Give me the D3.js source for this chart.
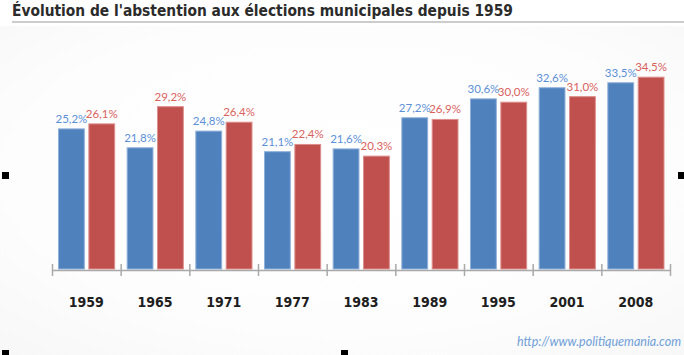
<!DOCTYPE html>
<html>
<head>
<meta charset="utf-8">
<script src="https://cdn.jsdelivr.net/npm/d3@7"></script>
<style>
  html, body { margin: 0; padding: 0; background: #ffffff; }
  svg { display: block; }
</style>
</head>
<body>
<svg id="chart" width="684" height="355"></svg>
<script>
// ---- data ----
const titleText = "Évolution de l'abstention aux élections municipales depuis 1959";
const years = ["1959", "1965", "1971", "1977", "1983", "1989", "1995", "2001", "2008"];
const firstRound = [25.2, 21.8, 24.8, 21.1, 21.6, 27.2, 30.6, 32.6, 33.5];
const secondRound = [26.1, 29.2, 26.4, 22.4, 20.3, 26.9, 30.0, 31.0, 34.5];
const seriesKeys = ["first", "second"];
const sourceText = "http://www.politiquemania.com";

// ---- layout ----
const W = 684, H = 355;
const axisY = 270, baseY = 269;
const svg = d3.select("#chart");

// background
const defs = svg.append("defs");
const grad = defs.append("radialGradient").attr("id", "bg").attr("cx", "50%").attr("cy", "45%").attr("r", "80%");
grad.append("stop").attr("offset", "0%").attr("stop-color", "#ffffff");
grad.append("stop").attr("offset", "60%").attr("stop-color", "#fdfdfd");
grad.append("stop").attr("offset", "100%").attr("stop-color", "#f6f6f6");
svg.append("rect").attr("x", 0).attr("y", 26).attr("width", W).attr("height", H - 26).attr("fill", "url(#bg)");

// title
const title = svg.append("text")
  .attr("x", 12).attr("y", 16)
  .attr("font-family", "'DejaVu Sans Condensed', 'DejaVu Sans', sans-serif")
  .attr("font-weight", "bold")
  .attr("font-size", 15)
  .attr("fill", "#2b2b2b")
  .text(titleText);
(function fit(){
  let fs = 15;
  for (let i = 0; i < 6; i++) {
    const w = title.node().getComputedTextLength();
    fs = fs * 501 / w;
    title.attr("font-size", fs);
  }
})();
svg.append("line").attr("x1", 12).attr("x2", W).attr("y1", 22).attr("y2", 22)
  .attr("stroke", "#cccccc").attr("stroke-width", 2);

// scales
const x = d3.scaleBand().domain(years).range([52, 670]).padding(0);
const xs = d3.scaleBand().domain(seriesKeys).range([6.5, x.bandwidth() - 6]).paddingInner(0.15);
const y = d3.scaleLinear().domain([0, 40]).range([baseY, baseY - 222.4]);
const idx = d3.scaleLinear().domain([0, years.length]).range([52, 670]);

const colors = { first: "#4f81bd", second: "#c0504d" };
const strokes = { first: "#8fb0da", second: "#dd8e8c" };
const labelColors = { first: "#5b90d8", second: "#d9625e" };

const rows = years.map((yr, i) => ({ year: yr, first: firstRound[i], second: secondRound[i] }));

// bars
const groups = svg.selectAll("g.yr").data(rows).join("g")
  .attr("class", "yr")
  .attr("transform", d => `translate(${x(d.year)},0)`);

groups.selectAll("rect").data(d => seriesKeys.map(k => ({ key: k, value: d[k] }))).join("rect")
  .attr("x", d => xs(d.key))
  .attr("y", d => y(d.value))
  .attr("width", xs.bandwidth())
  .attr("height", d => baseY - y(d.value))
  .attr("fill", d => colors[d.key])
  .attr("stroke", d => strokes[d.key])
  .attr("stroke-width", 1);

groups.selectAll("text.val").data(d => seriesKeys.map(k => ({ key: k, value: d[k] }))).join("text")
  .attr("class", "val")
  .attr("x", d => xs(d.key) + xs.bandwidth() / 2)
  .attr("y", d => y(d.value) - 6)
  .attr("text-anchor", "middle")
  .attr("font-family", "Lato, 'Open Sans', sans-serif")
  .attr("font-size", 11.5)
  .attr("fill", d => labelColors[d.key])
  .text(d => d.value.toFixed(1).replace(".", ",") + "%");

// axis
const axis = d3.axisBottom(idx).tickValues(d3.range(years.length + 1)).tickSize(12).tickSizeOuter(0).tickFormat("");
const ax = svg.append("g").attr("transform", `translate(0,${axisY})`).call(axis);
ax.select(".domain").attr("stroke", "#a9a9a9").attr("stroke-width", 1.5);
ax.selectAll(".tick line").attr("y1", -6).attr("y2", 6).attr("stroke", "#a9a9a9").attr("stroke-width", 1.5);

// year labels
svg.selectAll("text.year").data(years).join("text")
  .attr("class", "year")
  .attr("x", d => x(d) + x.bandwidth() / 2)
  .attr("y", 307)
  .attr("text-anchor", "middle")
  .attr("font-family", "'DejaVu Sans Condensed', 'DejaVu Sans', sans-serif")
  .attr("font-weight", "bold")
  .attr("font-size", 14)
  .attr("fill", "#1e1e1e")
  .text(d => d);

// source
svg.append("text")
  .attr("x", 681).attr("y", 346)
  .attr("text-anchor", "end")
  .attr("font-family", "Lato, 'Open Sans', sans-serif")
  .attr("font-style", "italic")
  .attr("font-size", 12.5)
  .attr("fill", "#6f9fd8")
  .text(sourceText);

// selection handles
const handles = [[2, 172], [678, 172], [2, 350], [341, 350]];
svg.selectAll("rect.h").data(handles).join("rect")
  .attr("class", "h")
  .attr("x", d => d[0]).attr("y", d => d[1])
  .attr("width", 7).attr("height", 7)
  .attr("fill", "#000");
</script>
</body>
</html>
